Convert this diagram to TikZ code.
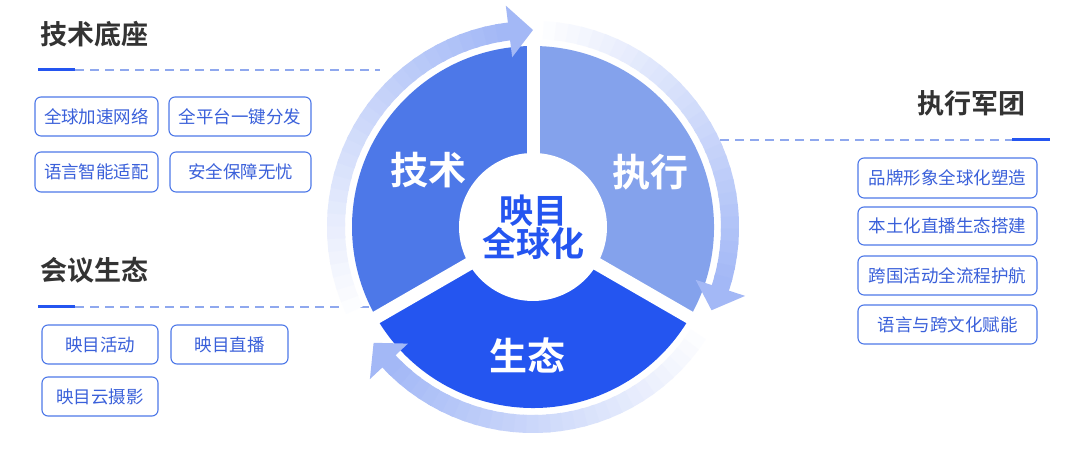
\documentclass[tikz,border=0pt]{standalone}
\usepackage{fontspec}
\setmainfont{Noto Sans CJK SC}[BoldFont={* Bold}]
\definecolor{cA}{HTML}{4D78E8}
\definecolor{cB}{HTML}{84A2EC}
\definecolor{cC}{HTML}{2455F0}
\definecolor{ring}{HTML}{A3B8F6}
\definecolor{txt}{HTML}{3A60DA}
\definecolor{head}{HTML}{333333}
\definecolor{dashc}{HTML}{8FA8EE}
\begin{document}
\begin{tikzpicture}[x=1pt,y=1pt,
  tag/.style={draw=cA,line width=1.1pt,rounded corners=6pt,text=txt,inner sep=0pt,font=\fontsize{17.5}{19}\selectfont},
  heading/.style={text=head,font=\fontsize{27}{30}\selectfont\bfseries,anchor=west},
  pielab/.style={text=white,font=\fontsize{38}{40}\selectfont\bfseries}]
\useasboundingbox (0,0) rectangle (1080,454);
\fill[white] (0,0) rectangle (1080,454);
% guide lines
\draw[dashc,line width=1.5pt,dash pattern=on 9pt off 6pt] (75,384) -- (380,384);
\draw[cC,line width=3pt] (38,384) -- (75,384);
\draw[dashc,line width=1.5pt,dash pattern=on 9pt off 6pt] (75,147) -- (370,147);
\draw[cC,line width=3pt] (38,147) -- (75,147);
\draw[dashc,line width=1.5pt,dash pattern=on 9pt off 6pt] (720,314) -- (1012,314);
\draw[cC,line width=3pt] (1012,314) -- (1050,314);
% pie
\begin{scope}[shift={(533,227)}]
\fill[cA] (0,0) -- (90:181) arc[start angle=90,end angle=210,radius=181] -- cycle;
\fill[cB] (0,0) -- (-30:181) arc[start angle=-30,end angle=90,radius=181] -- cycle;
\fill[cC] (0,0) -- (210:181) arc[start angle=210,end angle=330,radius=181] -- cycle;
\foreach \a in {90,210,330}{\draw[white,line width=13pt] (0,0) -- (\a:186);}
% rings with fade
\foreach \s/\e in {205/97, 87/-18, -33/-137}{
  \foreach \i in {0,...,29}{
    \pgfmathsetmacro\aa{\s+(\e-\s)*\i/30}
    \pgfmathsetmacro\bb{\s+(\e-\s)*(\i+1.3)/30}
    \pgfmathsetmacro\pp{100*(\i+1)/30}
    \draw[ring!\pp!white,line width=18pt] (\aa:197) arc[start angle=\aa,end angle=\bb,radius=197];
  }
  \pgfmathsetmacro\tp{\e-7}
  \fill[ring] (\e:171) -- (\tp:197) -- (\e:223) -- cycle;
}
\fill[white] (0,0) circle (74);
\node[pielab] (tech) at (-105,57) {技术};
\node[pielab] (exec) at (117,55) {执行};
\node[pielab] (eco) at (-6,-128) {生态};
\node[text=cC,font=\fontsize{34}{36}\selectfont\bfseries,align=center] (core) at (0,0) {映目\\[-3pt]全球化};
\end{scope}
% headings
\node[heading] (h1) at (37,420) {技术底座};
\node[heading] (h2) at (37,184) {会议生态};
\node[heading] (h3) at (914,351) {执行军团};
% left boxes
\node[tag,minimum width=123pt,minimum height=39pt] (b1) at (96.5,337.5) {全球加速网络};
\node[tag,minimum width=142pt,minimum height=39pt] (b2) at (240,337.5) {全平台一键分发};
\node[tag,minimum width=123pt,minimum height=40pt] (b3) at (96.5,282) {语言智能适配};
\node[tag,minimum width=141pt,minimum height=40pt] (b4) at (240.5,282) {安全保障无忧};
\node[tag,minimum width=116pt,minimum height=39pt] (b5) at (100,109.5) {映目活动};
\node[tag,minimum width=117pt,minimum height=39pt] (b6) at (229.5,109.5) {映目直播};
\node[tag,minimum width=116pt,minimum height=39pt] (b7) at (100,57.5) {映目云摄影};
% right boxes
\node[tag,minimum width=179pt,minimum height=40pt] (r1) at (947.5,276) {品牌形象全球化塑造};
\node[tag,minimum width=179pt,minimum height=38pt] (r2) at (947.5,228) {本土化直播生态搭建};
\node[tag,minimum width=179pt,minimum height=39pt] (r3) at (947.5,178.5) {跨国活动全流程护航};
\node[tag,minimum width=179pt,minimum height=39pt] (r4) at (947.5,129.5) {语言与跨文化赋能};
\end{tikzpicture}
\end{document}
